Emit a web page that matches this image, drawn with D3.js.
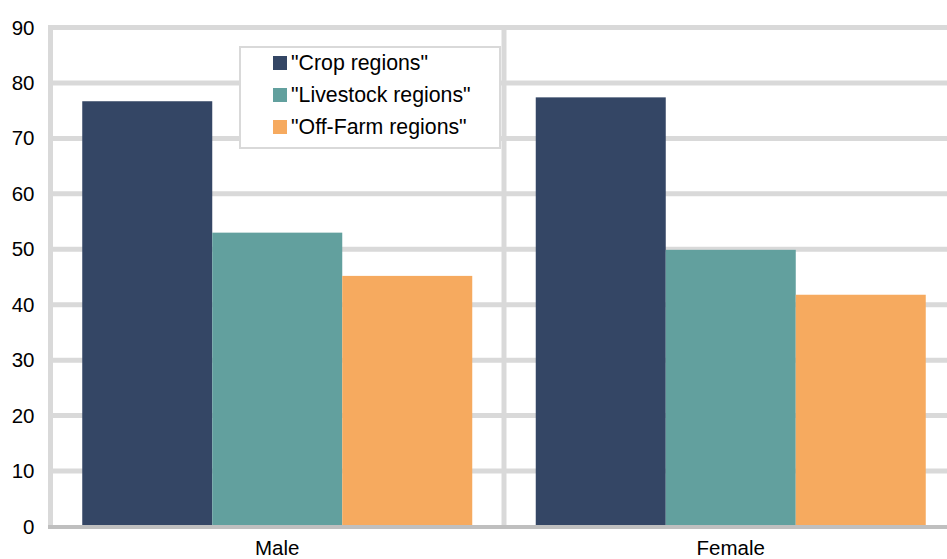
<!DOCTYPE html>
<html>
<head>
<meta charset="utf-8">
<script src="https://cdn.jsdelivr.net/npm/d3@7"></script>
<style>
html,body{margin:0;padding:0;background:#fff;}
svg{display:block;font-family:"Liberation Sans",Arial,sans-serif;}
</style>
</head>
<body>
<svg id="chart" width="947" height="559"></svg>
<script>
const categories = ["Male", "Female"];
const seriesNames = ["\"Crop regions\"", "\"Livestock regions\"", "\"Off-Farm regions\""];
const cropValues = [76.7, 77.4];
const livestockValues = [53.0, 49.9];
const offFarmValues = [45.2, 41.8];
const yTicks = [0, 10, 20, 30, 40, 50, 60, 70, 80, 90];
const colors = ["#344665", "#62a09e", "#f6aa5f"];

const seriesValues = [cropValues, livestockValues, offFarmValues];
const data = categories.map((c, i) => ({
  cat: c,
  vals: seriesNames.map((s, j) => ({ s, j, v: seriesValues[j][i] }))
}));

const svg = d3.select("#chart");
const mLeft = 50.5, mRight = 957.5, mTop = 27.5, mBottom = 526.5;

const x0 = d3.scaleBand().domain(categories).range([mLeft, mRight]).padding(0);
const x1 = d3.scaleBand().domain(d3.range(seriesNames.length))
  .range([31.75, x0.bandwidth() - 31.75]).padding(0);
const y = d3.scaleLinear().domain([0, 90]).range([mBottom, mTop]);

// horizontal gridlines
svg.append("g").selectAll("line").data(yTicks.filter(t => t > 0)).join("line")
  .attr("x1", mLeft - 2.5).attr("x2", mRight)
  .attr("y1", d => y(d)).attr("y2", d => y(d))
  .attr("stroke", "#d9d9d9").attr("stroke-width", 5);

// vertical lines: left axis and category separators
const vlines = [mLeft].concat(categories.slice(1).map(c => x0(c)));
svg.append("g").selectAll("line").data(vlines).join("line")
  .attr("x1", d => d).attr("x2", d => d)
  .attr("y1", mTop - 2.5).attr("y2", mBottom)
  .attr("stroke", "#d9d9d9").attr("stroke-width", 5);

// bars
const groups = svg.append("g").selectAll("g").data(data).join("g")
  .attr("transform", d => `translate(${x0(d.cat)},0)`);
groups.selectAll("rect").data(d => d.vals).join("rect")
  .attr("x", d => x1(d.j)).attr("width", x1.bandwidth())
  .attr("y", d => y(d.v)).attr("height", d => y(0) - y(d.v))
  .attr("fill", d => colors[d.j]);

// baseline
svg.append("line")
  .attr("x1", mLeft - 2.5).attr("x2", mRight)
  .attr("y1", y(0) + 0.5).attr("y2", y(0) + 0.5)
  .attr("stroke", "#bfbfbf").attr("stroke-width", 4);

// y axis labels
const yAxis = d3.axisLeft(y).tickValues(yTicks).tickSize(0).tickPadding(16);
const ya = svg.append("g").attr("transform", `translate(${mLeft},0)`).call(yAxis);
ya.select(".domain").remove();
ya.selectAll("text").attr("font-size", 20.5).attr("fill", "#000")
  .attr("font-family", "Liberation Sans, Arial, sans-serif");

// x axis labels
const xAxis = d3.axisBottom(x0).tickSize(0).tickPadding(14);
const xa = svg.append("g").attr("transform", `translate(0,${mBottom})`).call(xAxis);
xa.select(".domain").remove();
xa.selectAll("text").attr("font-size", 20.5).attr("fill", "#000")
  .attr("font-family", "Liberation Sans, Arial, sans-serif");

// legend
const legend = svg.append("g").attr("transform", "translate(240,47)");
legend.append("rect").attr("x", 0).attr("y", 0).attr("width", 260).attr("height", 101)
  .attr("fill", "#fff").attr("stroke", "#d9d9d9").attr("stroke-width", 2);
const items = legend.selectAll("g.item").data(seriesNames).join("g")
  .attr("class", "item")
  .attr("transform", (d, i) => `translate(33,${16 + i * 32})`);
items.append("rect").attr("x", 0).attr("y", -7).attr("width", 14).attr("height", 14)
  .attr("fill", (d, i) => colors[i]);
items.append("text").attr("x", 18).attr("y", 0).attr("dy", "0.35em")
  .attr("font-size", 21.3).attr("fill", "#000").text(d => d);
</script>
</body>
</html>
